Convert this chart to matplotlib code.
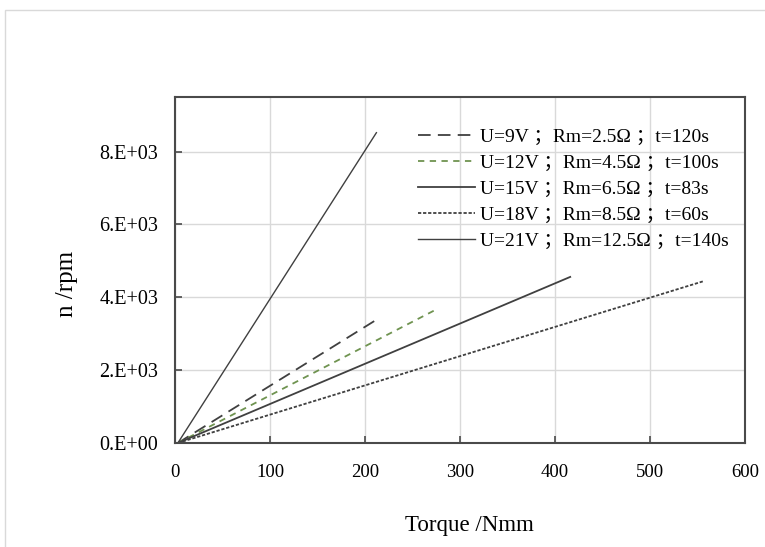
import matplotlib
matplotlib.use("Agg")
import matplotlib.pyplot as plt
from matplotlib.patches import Rectangle

# Data (start and end points of each line)
labels = [
    "U=9V ；Rm=2.5Ω ；t=120s",
    "U=12V ；Rm=4.5Ω ；t=100s",
    "U=15V ；Rm=6.5Ω ；t=83s",
    "U=18V ；Rm=8.5Ω ；t=60s",
    "U=21V ；Rm=12.5Ω ；t=140s",
]
torque_9v = [3, 213]
speed_9v = [0, 3400]
torque_12v = [3, 276]
speed_12v = [0, 3680]
torque_15v = [3, 416]
speed_15v = [0, 4560]
torque_18v = [3, 556]
speed_18v = [0, 4440]
torque_21v = [3, 212]
speed_21v = [0, 8520]

x_ticks = [0, 100, 200, 300, 400, 500, 600]
y_ticks = [0, 2000, 4000, 6000, 8000]
y_tick_labels = ["0.E+00", "2.E+03", "4.E+03", "6.E+03", "8.E+03"]

plt.rcParams['font.family'] = ['Liberation Serif', 'Noto Sans CJK SC', 'DejaVu Sans']

fig = plt.figure(figsize=(7.65, 5.47), dpi=100)
W, H = 765, 547
# light figure border
fig.patches.append(Rectangle((5 / W, -0.1), 1.2, 1 - 10 / H + 0.1, transform=fig.transFigure,
                             fill=False, edgecolor="#d9d9d9", linewidth=1.0))

ax = fig.add_axes([175 / W, 1 - 443 / H, (745 - 175) / W, (443 - 97) / H])

dark = "#404040"
green = "#6f9350"
ax.plot(torque_9v, speed_9v, color=dark, lw=1.3, linestyle=(0, (7, 4)), label=labels[0])
ax.plot(torque_12v, speed_12v, color=green, lw=1.3, linestyle=(0, (3.5, 3)), label=labels[1])
ax.plot(torque_15v, speed_15v, color=dark, lw=1.3, linestyle="-", label=labels[2])
ax.plot(torque_18v, speed_18v, color=dark, lw=1.3, linestyle=(0, (1.8, 1.0)), label=labels[3])
ax.plot(torque_21v, speed_21v, color=dark, lw=1.0, linestyle="-", label=labels[4])

ax.set_xlim(0, 600)
ax.set_ylim(0, 9500)
ax.set_xticks(x_ticks)
ax.set_xticklabels([str(v) for v in x_ticks])
ax.set_yticks(y_ticks)
ax.set_yticklabels(y_tick_labels)
ax.grid(True, color="#d9d9d9", linewidth=1.0)
ax.set_axisbelow(True)
for s in ax.spines.values():
    s.set_color("#4a4a4a")
    s.set_linewidth(1.5)
ax.tick_params(direction="in", length=5, width=1.2, color="#4a4a4a", labelcolor="#000000")
ax.tick_params(axis="x", labelsize=13.5, pad=15)
ax.tick_params(axis="y", labelsize=14.5, pad=12)

ax.set_xlabel("Torque /Nmm", fontsize=16.5)
ax.set_ylabel("n /rpm", fontsize=18)
ax.xaxis.label.set_verticalalignment("center")
ax.yaxis.label.set_verticalalignment("center")
ax.xaxis.set_label_coords((469 - 175) / 570, (443 - 525) / 346)
ax.yaxis.set_label_coords((67 - 175) / 570, (443 - 284) / 346)

leg = ax.legend(loc="upper left", bbox_to_anchor=(418 / W, 1 - 128 / H),
                bbox_transform=fig.transFigure, frameon=False, fontsize=14,
                handlelength=2.95, handletextpad=0.26, labelspacing=0.43,
                borderaxespad=0, borderpad=0)

fig.savefig("out.png", dpi=100)
